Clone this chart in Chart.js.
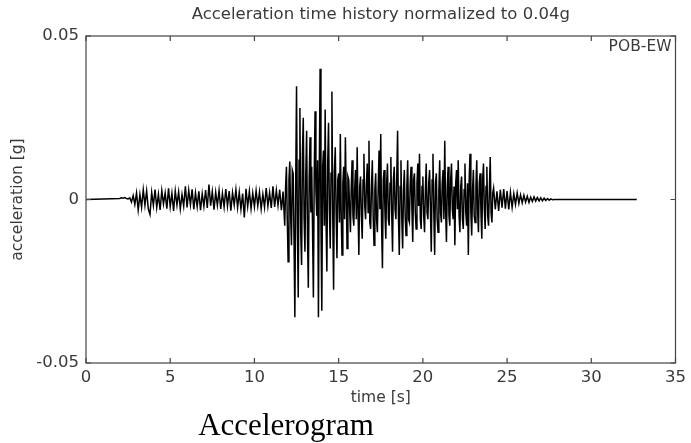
<!DOCTYPE html>
<html>
<head>
<meta charset="utf-8">
<script src="https://cdn.jsdelivr.net/npm/chart.js@4.4.1/dist/chart.umd.min.js"></script>
<style>
  html, body { margin: 0; padding: 0; background: #fff; }
  #wrap { position: relative; width: 691px; height: 443px; overflow: hidden; }
  #caption {
    position: absolute; left: 0; width: 572px; top: 405px; text-align: center;
    font-family: "Liberation Serif", "Times New Roman", serif; font-size: 31px; color: #000;
    line-height: 40px;
  }
</style>
</head>
<body>
<div id="wrap">
  <canvas id="c"></canvas>
  <div id="caption">Accelerogram</div>
</div>
<script>
// ---- data ----
const chartTitle = "Acceleration time history normalized to 0.04g";
const stationLabel = "POB-EW";
const xAxisTitle = "time [s]";
const yAxisTitle = "acceleration [g]";
const xTicks = [0, 5, 10, 15, 20, 25, 30, 35];
const yTicks = [-0.05, 0, 0.05];
const yTickLabels = ["-0.05", "0", "0.05"];

const recordStart = 0.0;   // s, quiet trace begins
const recordEnd = 32.7;    // s, trace ends

// pre-event noise, milli-g, every 0.1 s from 2.0 s to 11.7 s
const noiseStart = 2.0, noiseStep = 0.1;
const noiseMilliG = [
  0.3, 0.5, 0.4, 0.6, 0.3, 0.2, 0.5, -0.8, 1.2, -1.5,
  2.0, -3.2, 1.5, -2.4, 3.0, -1.8, 2.6, -2.9, -4.6, 2.2,
  -1.8, 3.0, -2.5, 1.6, -3.2, 2.7, -1.4, 2.0, -2.8, 3.4,
  -2.2, 1.9, -3.5, 2.6, -1.7, 2.3, -2.9, 1.5, -2.0, 4.0,
  -2.4, 2.8, -1.6, 3.1, -3.0, 2.0, -2.2, 2.5, -3.3, 1.8,
  -2.1, 2.9, -2.6, 4.6, -1.9, 2.4, -3.1, 2.2, -1.8, 2.7,
  -2.9, 1.9, -2.3, 3.2, -2.0, 2.6, -3.4, 2.1, -1.7, 3.0,
  -2.5, 2.2, -3.0, 1.8, -5.5, 3.3, -2.1, 2.5, -2.8, 1.9,
  -2.2, 2.7, -1.9, 2.3, -2.9, 1.6, -2.4, 3.5, -2.0, 2.1,
  -2.6, 4.0, -2.3, 2.8, -1.8, 3.0, -3.3, 2.4
];

// strong motion, milli-g, every 0.05 s from 11.8 s to 24.15 s
const strongStart = 11.8, strongStep = 0.05;
const strongMilliG = [
  -8, 4, 10, -6,
  -19, 6, 11.6, -5, -14, 9, 8, -12, -36, 5, 34.6, -8, -30, 12, 28, -10, -20, 14, 25, -6,
  -16, 8, 21, -11, -27, 6, 19, -4, 10, -9, -30, 7, 27, 3, -5, 12, -36, 9, 40, -7,
  -34, 10, 15, -8, 27.5, -6, -22, 11, 23.5, -3, -15, 8, 33, -5, -27.6, 9, 16, -4, -18, 6,
  8, -7, 20, -4, -17, 5, 10, -6, 19, 2, -15, 7, 6, -3, -10, 4, 12, -5, -8, 3,
  9, -6, 16, -3, -17, 4, 7, -5, -12, 6, 14, -2, -6, 5, 11, -4, 18, -7, -9, 4,
  12, -5, -14, 3, 8, -6, -10, 4, 15, -3, 20, -8, -21, 6, 9, -4, -12, 5, 11, -6,
  -8, 5, 13, -4, -16, 6, 10, -3, -6, 7, 21, -5, -17, 4, 12, -6, -15, 3, 9, -5,
  -11, 4, 12, -6, -7, 5, 10, -3, -13, 6, 8, -4, -9, 5, 11, -2, 14, -6, -9, 4,
  7, -5, -10, 3, 11, -4, -6, 5, 9, -3, -16, 6, 14, -4, -17, 5, 8, -6, -10, 3,
  12, -4, -7, 5, 9, -6, 18, -3, -13, 4, 10, -5, -8, 6, 11, -3, -6, 4, -14, 5,
  9, -3, 12, -5, -10, 4, 7, -6, -9, 3, 11, -4, -8, 5, -17, 6, 14, -4, -11, 3,
  9, -5, -7, 4, 12, -3, -10, 5, 8, -4, -12, 6, 11, -3, -9, 4, 10, -5, -8, 3,
  13, -4, -7, 2
];

// coda, milli-g, every 0.1 s from 24.2 s to 27.8 s
const codaStart = 24.2, codaStep = 0.1;
const codaMilliG = [
  3.5, -3, 2.5, -3.5, 3, -2.5, 3.2, -2.8,
  2.6, -3.0, 2.2, -2.4, 1.8, -1.5, 2.0, -1.2, 1.4, -1.0,
  1.3, -0.8, 1.0, -0.9, 0.7, -0.6, 0.8, -0.5, 0.6, -0.4,
  0.5, -0.4, 0.4, -0.3, 0.3, -0.2, 0.2, -0.1, 0
];

// ---- build series ----
const points = [{ x: recordStart, y: 0 }];
function addSegment(start, step, arr) {
  arr.forEach((v, i) => points.push({ x: +(start + i * step).toFixed(3), y: v / 1000 }));
}
addSegment(noiseStart, noiseStep, noiseMilliG);
addSegment(strongStart, strongStep, strongMilliG);
addSegment(codaStart, codaStep, codaMilliG);
points.push({ x: recordEnd, y: 0 });

const FONT = "'DejaVu Sans', 'Liberation Sans', Arial, sans-serif";
const TXT = "#3a3a3a";

const framePlugin = {
  id: "frame",
  afterDraw(chart) {
    const { ctx, chartArea: a, scales } = chart;
    ctx.save();
    ctx.strokeStyle = "#444";
    ctx.lineWidth = 1.2;
    ctx.strokeRect(a.left, a.top, a.right - a.left, a.bottom - a.top);
    const L = 5;
    ctx.beginPath();
    xTicks.forEach(v => {
      const px = scales.x.getPixelForValue(v);
      ctx.moveTo(px, a.bottom); ctx.lineTo(px, a.bottom - L);
      ctx.moveTo(px, a.top); ctx.lineTo(px, a.top + L);
    });
    yTicks.forEach(v => {
      const py = scales.y.getPixelForValue(v);
      ctx.moveTo(a.left, py); ctx.lineTo(a.left + L, py);
      ctx.moveTo(a.right, py); ctx.lineTo(a.right - L, py);
    });
    ctx.stroke();
    ctx.fillStyle = TXT;
    ctx.textBaseline = "middle";
    ctx.font = "15.5px " + FONT;
    ctx.textAlign = "right";
    ctx.fillText(stationLabel, a.right - 4, a.top + 11);
    ctx.font = "16.5px " + FONT;
    ctx.textAlign = "center";
    ctx.fillText(chartTitle, (a.left + a.right) / 2, 15);
    ctx.restore();
  }
};

new Chart(document.getElementById("c"), {
  type: "line",
  data: {
    datasets: [{
      data: points,
      borderColor: "#000",
      borderWidth: 1.5,
      pointRadius: 0,
      tension: 0,
      fill: false
    }]
  },
  options: {
    responsive: true,
    maintainAspectRatio: false,
    animation: false,
    layout: { padding: { top: 36, right: 11, left: 0, bottom: 0 } },
    plugins: {
      legend: { display: false },
      tooltip: { enabled: false },
      title: { display: false }
    },
    scales: {
      x: {
        type: "linear",
        min: 0, max: 35,
        afterBuildTicks: s => { s.ticks = xTicks.map(v => ({ value: v })); },
        afterFit: s => { s.height = 80; },
        grid: { display: false, drawTicks: false },
        border: { display: false },
        ticks: { color: TXT, font: { family: FONT, size: 16.5 }, padding: 5, maxRotation: 0, autoSkip: false },
        title: { display: true, text: xAxisTitle, color: TXT, font: { family: FONT, size: 15.5 }, padding: { bottom: 36 } }
      },
      y: {
        type: "linear",
        min: -0.05, max: 0.05,
        afterBuildTicks: s => { s.ticks = yTicks.map(v => ({ value: v })); },
        afterFit: s => { s.width = 86; },
        grid: { display: false, drawTicks: false },
        border: { display: false },
        ticks: {
          color: TXT, font: { family: FONT, size: 16.5 }, padding: 7,
          callback: v => { const i = yTicks.findIndex(t => Math.abs(t - v) < 1e-9); return i >= 0 ? yTickLabels[i] : ""; }
        },
        title: { display: true, text: yAxisTitle, color: TXT, font: { family: FONT, size: 15.5 }, padding: { top: 9 } }
      }
    }
  },
  plugins: [framePlugin]
});
</script>
</body>
</html>
